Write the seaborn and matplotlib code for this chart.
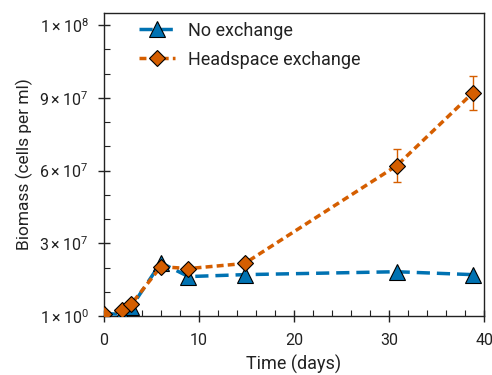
import numpy as np
import pandas as pd
import seaborn as sns
import matplotlib
matplotlib.use("Agg")
import matplotlib.pyplot as plt
from matplotlib.ticker import FixedLocator, MultipleLocator

sns.set_theme(style="ticks")
plt.rcParams['font.family'] = ['Roboto', 'DejaVu Sans']
plt.rcParams['mathtext.fontset'] = 'custom'
plt.rcParams['mathtext.rm'] = 'Roboto'
plt.rcParams['mathtext.it'] = 'Roboto'

# Data
days = [0, 1.9, 2.9, 6.0, 8.9, 14.8, 30.8, 38.8]
no_exchange = [1.0e6, 0.8e6, 3.8e6, 2.2e7, 1.63e7, 1.71e7, 1.83e7, 1.71e7]
headspace = [0.9e6, 2.5e6, 5.0e6, 2.04e7, 1.96e7, 2.17e7, 6.2e7, 9.2e7]
headspace_err = [3e5, 4e5, 5e5, 8e5, 8e5, 8e5, 6.9e6, 7.0e6]
series_names = ["No exchange", "Headspace exchange"]
ytick_vals = [0, 3e7, 6e7, 9e7, 1.2e8]
ytick_labels = [r"$\mathrm{1\times10^{0}}$", r"$\mathrm{3\times10^{7}}$", r"$\mathrm{6\times10^{7}}$",
                r"$\mathrm{9\times10^{7}}$", r"$\mathrm{1\times10^{8}}$"]

df = pd.DataFrame({
    "day": days * 2,
    "val": no_exchange + headspace,
    "series": [series_names[0]] * len(days) + [series_names[1]] * len(days),
})

blue = "#0072B2"
orange = "#D55E00"
ink = "#222222"

fig = plt.figure(figsize=(4.92, 3.75), dpi=100)
ax = fig.add_axes([0.211, 0.157, 0.773, 0.808])

ax.errorbar(days, headspace, yerr=headspace_err, fmt="none", ecolor=orange,
            elinewidth=1.0, capsize=3, capthick=1.0, zorder=2)

sns.lineplot(data=df[df.series == series_names[0]], x="day", y="val", ax=ax,
             color=blue, marker="^", markersize=11, markeredgecolor="black",
             markeredgewidth=0.8, linewidth=2.5, label=series_names[0],
             dashes=False, zorder=3)
sns.lineplot(data=df[df.series == series_names[1]], x="day", y="val", ax=ax,
             color=orange, marker="D", markersize=8.5, markeredgecolor="black",
             markeredgewidth=0.8, linewidth=2.5, label=series_names[1],
             dashes=False, zorder=4)
lines = ax.get_lines()
lines[-2].set_dashes([3.8, 2.0])
lines[-1].set_dashes([2.0, 1.2])

ax.set_xlim(0, 40)
ax.set_ylim(0, 1.249e8)
ax.xaxis.set_major_locator(FixedLocator([0, 10, 20, 30, 40]))
ax.xaxis.set_minor_locator(MultipleLocator(2))
ax.yaxis.set_major_locator(FixedLocator(ytick_vals))
ax.set_yticklabels(ytick_labels)
ax.yaxis.set_minor_locator(MultipleLocator(1e7))
ax.tick_params(which="major", direction="inout", length=8, width=1.0,
               labelsize=11.5, colors=ink)
ax.tick_params(axis="x", which="major", pad=8)
ax.tick_params(axis="y", which="major", pad=7)
ax.tick_params(which="minor", direction="in", length=4, width=0.8, color=ink)
for s in ax.spines.values():
    s.set_linewidth(1.0)
    s.set_color(ink)

ax.set_xlabel("Time (days)", fontsize=13, labelpad=5, color=ink)
ax.set_ylabel("Biomass (cells per ml)", fontsize=12.5, labelpad=5, color=ink)

leg = ax.legend(loc="upper left", frameon=False, fontsize=13, handlelength=2.0,
                labelspacing=0.6, bbox_to_anchor=(0.05, 1.025), handletextpad=0.7)
for t in leg.get_texts():
    t.set_color(ink)

fig.savefig("out.png", dpi=100)
